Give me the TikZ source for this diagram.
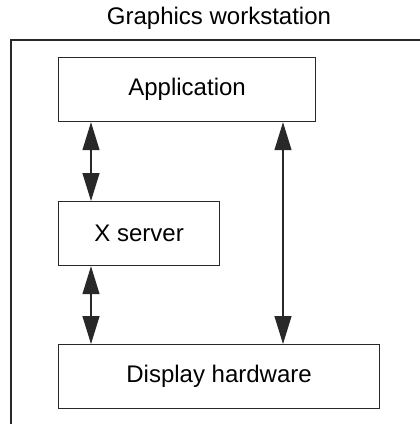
\documentclass[tikz,border=0pt]{standalone}
\usepackage{fontspec}
\setmainfont{Liberation Sans}
\usetikzlibrary{arrows.meta}
\definecolor{frameline}{RGB}{40, 40, 40}

\begin{document}
\begin{tikzpicture}[x=0.5pt, y=-0.5pt, font=\fontsize{12}{14}\selectfont,
    block/.style={draw=frameline, line width=0.6pt, anchor=north west, inner sep=0pt, minimum height=32pt},
    link/.style={draw=frameline, line width=0.6pt, {Triangle[length=14pt, width=8.5pt]}-{Triangle[length=14pt, width=8.5pt]}}]
    \useasboundingbox (0,0) rectangle (419,424);
    \node (title) at (219,18) {Graphics workstation};
    \draw[frameline, line width=0.6pt] (11,430) |- (430,40);
    \node[block, minimum width=128.5pt] (app)  at (58,57)  {Application};
    \node[block, minimum width=80.5pt]  (xs)   at (58,201) {X server};
    \node[block, minimum width=160.5pt] (disp) at (58,344) {Display hardware};
    \draw[link] ([xshift=16.5pt]app.south west) -- ([xshift=16.5pt]xs.north west);
    \draw[link] ([xshift=16.5pt]xs.south west)  -- ([xshift=16.5pt]disp.north west);
    \draw[link] ([xshift=112.5pt]app.south west) -- ([xshift=112.5pt]disp.north west);
\end{tikzpicture}
\end{document}
